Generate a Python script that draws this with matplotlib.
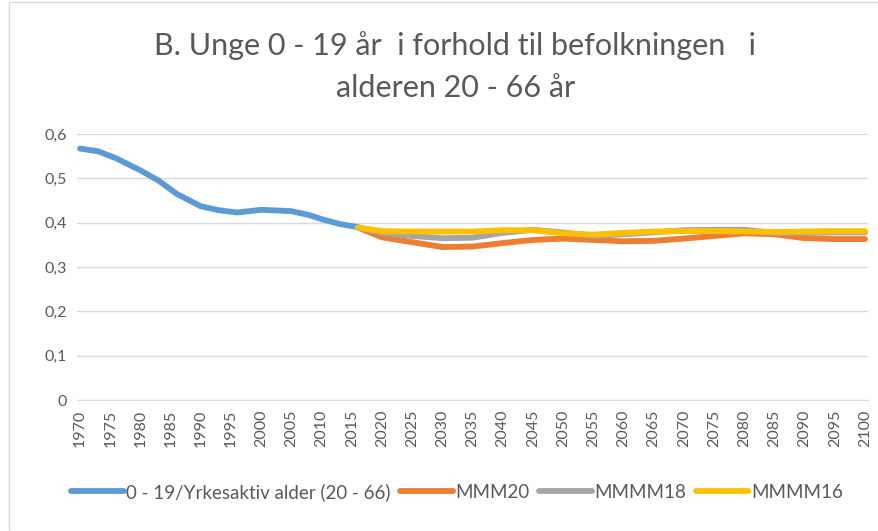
import numpy as np
import matplotlib.pyplot as plt
from matplotlib.patches import Rectangle

# historical ratio 0-19 / 20-66
hist_years = [1970, 1973, 1976, 1980, 1983, 1986, 1990, 1993, 1996, 2000,
              2005, 2008, 2010, 2013, 2016]
hist_vals = [0.567, 0.561, 0.545, 0.518, 0.495, 0.465, 0.437, 0.428, 0.423, 0.429,
             0.426, 0.417, 0.408, 0.397, 0.390]

# projection alternatives
proj_years = [2016, 2020, 2025, 2030, 2035, 2040, 2045, 2050, 2055, 2060,
              2065, 2070, 2075, 2080, 2085, 2090, 2095, 2100]
mmm20 = [0.389, 0.367, 0.356, 0.345, 0.346, 0.354, 0.361, 0.364, 0.361, 0.358,
         0.359, 0.364, 0.370, 0.376, 0.374, 0.365, 0.363, 0.363]
mmmm18 = [0.389, 0.377, 0.370, 0.365, 0.366, 0.377, 0.384, 0.378, 0.370, 0.374,
          0.378, 0.383, 0.384, 0.384, 0.377, 0.377, 0.378, 0.378]
mmmm16 = [0.389, 0.381, 0.380, 0.380, 0.380, 0.383, 0.383, 0.376, 0.373, 0.377,
          0.380, 0.381, 0.381, 0.380, 0.379, 0.380, 0.381, 0.381]

labels = ["0 - 19/Yrkesaktiv alder (20 - 66)", "MMM20", "MMMM18", "MMMM16"]
colors = ["#5B9BD5", "#ED7D31", "#A5A5A5", "#FFC000"]
tick_years = list(range(1970, 2101, 5))
y_ticks = [0, 0.1, 0.2, 0.3, 0.4, 0.5, 0.6]

plt.rcParams['font.family'] = ['Lato', 'DejaVu Sans']
txt = "#595959"

fig = plt.figure(figsize=(8.79, 5.31), dpi=100)
fig.patches.append(Rectangle((9 / 879, 0), 1, 1 - 2 / 531, transform=fig.transFigure,
                             fill=False, edgecolor="#D9D9D9", lw=1))
ax = fig.add_axes([77 / 879, 1 - 400 / 531, 791 / 879, 266 / 531])

lw = 4.2
ax.plot(hist_years, hist_vals, color=colors[0], lw=lw, solid_capstyle="round", label=labels[0])
ax.plot(proj_years, mmm20, color=colors[1], lw=lw, solid_capstyle="round", label=labels[1])
ax.plot(proj_years, mmmm18, color=colors[2], lw=lw, solid_capstyle="round", label=labels[2])
ax.plot(proj_years, mmmm16, color=colors[3], lw=lw, solid_capstyle="round", label=labels[3])

ax.set_xlim(1969.5, 2100.5)
ax.set_ylim(0, 0.6)
ax.set_yticks(y_ticks)
ax.set_yticklabels([("%g" % v).replace(".", ",") for v in y_ticks])
ax.set_xticks(tick_years)
ax.set_xticklabels([str(y) for y in tick_years], rotation=90)
ax.tick_params(length=0, labelcolor=txt, labelsize=11.5)
ax.tick_params(axis="y", pad=7)
ax.tick_params(axis="x", pad=7)
ax.grid(axis="y", color="#D9D9D9", lw=1)
ax.set_axisbelow(True)
for s in ["top", "right", "left"]:
    ax.spines[s].set_visible(False)
ax.spines["bottom"].set_color("#D9D9D9")

fig.text(0.518, 1 - 46 / 531, "B. Unge 0 - 19 år  i forhold til befolkningen   i",
         ha="center", va="center", fontsize=22, color=txt)
fig.text(0.518, 1 - 88 / 531, "alderen 20 - 66 år",
         ha="center", va="center", fontsize=22, color=txt)

fig.legend(loc="center", bbox_to_anchor=(0.52, 1 - 492 / 531), ncol=4, frameon=False,
           handlelength=2.8, handletextpad=0.15, columnspacing=0.5,
           fontsize=13.5, labelcolor=txt)

fig.savefig("out.png", dpi=100)
